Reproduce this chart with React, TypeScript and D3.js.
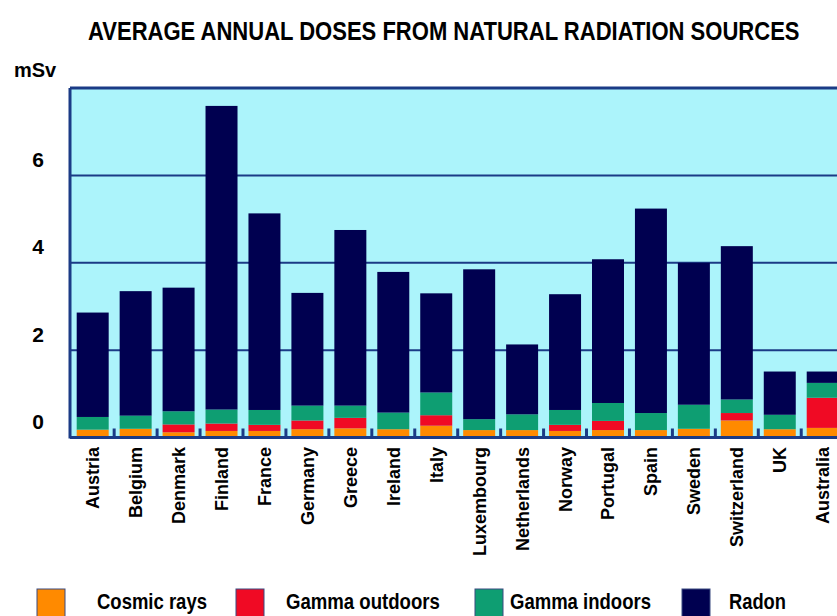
import * as d3 from 'd3';
import React, { useEffect, useRef } from 'react';

const countries = [
    'Austria', 'Belgium', 'Denmark', 'Finland', 'France', 'Germany', 'Greece', 'Ireland', 'Italy',
    'Luxembourg', 'Netherlands', 'Norway', 'Portugal', 'Spain', 'Sweden', 'Switzerland', 'UK', 'Australia',
];
const cosmic = [0.18, 0.2, 0.12, 0.15, 0.15, 0.19, 0.21, 0.19, 0.27, 0.17, 0.17, 0.15, 0.17, 0.17, 0.2, 0.39, 0.19, 0.22];
const gammaOut = [0, 0, 0.18, 0.17, 0.14, 0.2, 0.24, 0, 0.24, 0, 0, 0.14, 0.21, 0, 0, 0.17, 0, 0.69];
const gammaIn = [0.29, 0.3, 0.3, 0.32, 0.34, 0.34, 0.28, 0.38, 0.52, 0.25, 0.36, 0.34, 0.41, 0.39, 0.55, 0.31, 0.33, 0.34];
const radon = [2.39, 2.85, 2.83, 6.95, 4.5, 2.58, 4.02, 3.22, 2.27, 3.43, 1.6, 2.65, 3.29, 4.68, 3.25, 3.51, 0.99, 0.26];
const yTicks = [0, 2, 4, 6];
const seriesNames = ['Cosmic rays', 'Gamma outdoors', 'Gamma indoors', 'Radon'];
const seriesColors = ['#ff8a00', '#f00a24', '#0e9e72', '#000050'];

const font = '"Liberation Sans", Arial, sans-serif';

export default function App() {
    const ref = useRef<SVGSVGElement>(null);
    const width = 837;
    const height = 616;

    useEffect(() => {
        const svg = d3.select(ref.current);
        svg.selectAll('*').remove();

        const plotLeft = 70;
        const plotTop = 88;
        const plotBottom = 437.5;

        const x = d3
            .scaleBand()
            .domain(countries)
            .range([plotLeft, 845.4])
            .paddingInner(0.255)
            .paddingOuter(0.156);
        const y = d3.scaleLinear().domain([0, 8]).range([plotBottom, plotTop]);

        const rows = countries.map((c, i) => ({
            country: c,
            cosmic: cosmic[i],
            gammaOut: gammaOut[i],
            gammaIn: gammaIn[i],
            radon: radon[i],
        }));
        const keys = ['cosmic', 'gammaOut', 'gammaIn', 'radon'];
        const stack = d3.stack<any>().keys(keys)(rows);

        // condensed look: squeeze a text horizontally to a target width
        const squeeze = (sel: any, x0: number, y0: number, target: number) => {
            const w = (sel.node() as SVGTextElement).getComputedTextLength();
            sel.attr('transform', `translate(${x0},${y0}) scale(${target / w},1)`);
        };

        // title
        const title = svg.append('text')
            .style('font-family', font)
            .style('font-weight', 'bold')
            .style('font-size', '25px')
            .text('AVERAGE ANNUAL DOSES FROM NATURAL RADIATION SOURCES');
        squeeze(title, 88, 40, 712);

        // plot background
        svg.append('rect')
            .attr('x', plotLeft)
            .attr('y', plotTop)
            .attr('width', width - plotLeft)
            .attr('height', plotBottom - plotTop)
            .attr('fill', '#acf4fb');

        // grid
        svg.append('g')
            .selectAll('line')
            .data([2, 4, 6, 8])
            .join('line')
            .attr('x1', plotLeft)
            .attr('x2', width)
            .attr('y1', (d) => y(d))
            .attr('y2', (d) => y(d))
            .attr('stroke', '#1b3b86')
            .attr('stroke-width', (d) => (d === 8 ? 3 : 2));

        // bars
        svg.append('g')
            .selectAll('g')
            .data(stack)
            .join('g')
            .attr('fill', (d, i) => seriesColors[i])
            .selectAll('rect')
            .data((d) => d)
            .join('rect')
            .attr('x', (d: any) => x(d.data.country)!)
            .attr('width', x.bandwidth())
            .attr('y', (d) => y(d[1]))
            .attr('height', (d) => y(d[0]) - y(d[1]));

        // axis lines
        svg.append('line')
            .attr('x1', plotLeft)
            .attr('x2', plotLeft)
            .attr('y1', plotTop)
            .attr('y2', plotBottom + 1)
            .attr('stroke', '#1b3b86')
            .attr('stroke-width', 3);
        svg.append('line')
            .attr('x1', plotLeft)
            .attr('x2', width)
            .attr('y1', plotBottom)
            .attr('y2', plotBottom)
            .attr('stroke', '#1b3b86')
            .attr('stroke-width', 3);

        // small ticks between bars
        const gap = x.step() - x.bandwidth();
        svg.append('g')
            .selectAll('line')
            .data(countries)
            .join('line')
            .attr('x1', (d) => x(d)! + x.bandwidth() + gap / 2)
            .attr('x2', (d) => x(d)! + x.bandwidth() + gap / 2)
            .attr('y1', plotBottom - 9)
            .attr('y2', plotBottom)
            .attr('stroke', '#1b3b86')
            .attr('stroke-width', 3);

        // y labels
        svg.append('text')
            .attr('x', 14)
            .attr('y', 77)
            .style('font-family', font)
            .style('font-weight', 'bold')
            .style('font-size', '20px')
            .text('mSv');
        svg.append('g')
            .selectAll('text')
            .data(yTicks)
            .join('text')
            .attr('x', 38)
            .attr('y', (d) => y(d) - 16)
            .attr('dy', '0.36em')
            .attr('text-anchor', 'middle')
            .style('font-family', font)
            .style('font-weight', 'bold')
            .style('font-size', '21px')
            .text((d) => d);

        // x labels
        svg.append('g')
            .selectAll('text')
            .data(countries)
            .join('text')
            .attr('transform', (d) => `translate(${x(d)! + x.bandwidth() / 2},447) rotate(-90)`)
            .attr('dy', '0.36em')
            .attr('text-anchor', 'end')
            .style('font-family', font)
            .style('font-weight', 'bold')
            .style('font-size', '18px')
            .text((d) => d);

        // legend
        const legendSquareX = [37, 236, 475, 682];
        const legendTextX = [97, 286, 510, 729];
        const legendTextW = [110, 154, 141, 57];
        const legend = svg.append('g');
        legend
            .selectAll('rect')
            .data(seriesNames)
            .join('rect')
            .attr('x', (d, i) => legendSquareX[i])
            .attr('y', 589)
            .attr('width', 28)
            .attr('height', 30)
            .attr('fill', (d, i) => seriesColors[i])
            .attr('stroke', '#3a4a80')
            .attr('stroke-width', 1);
        seriesNames.forEach((name, i) => {
            const t = legend.append('text')
                .style('font-family', font)
                .style('font-weight', 'bold')
                .style('font-size', '22px')
                .text(name);
            squeeze(t, legendTextX[i], 609, legendTextW[i]);
        });
    }, []);

    return (
        <div className="chart">
            <svg
                ref={ref}
                width={width}
                height={height}
                style={{ position: 'absolute', left: 0, top: 0, background: '#fff' }}
            ></svg>
        </div>
    );
}
